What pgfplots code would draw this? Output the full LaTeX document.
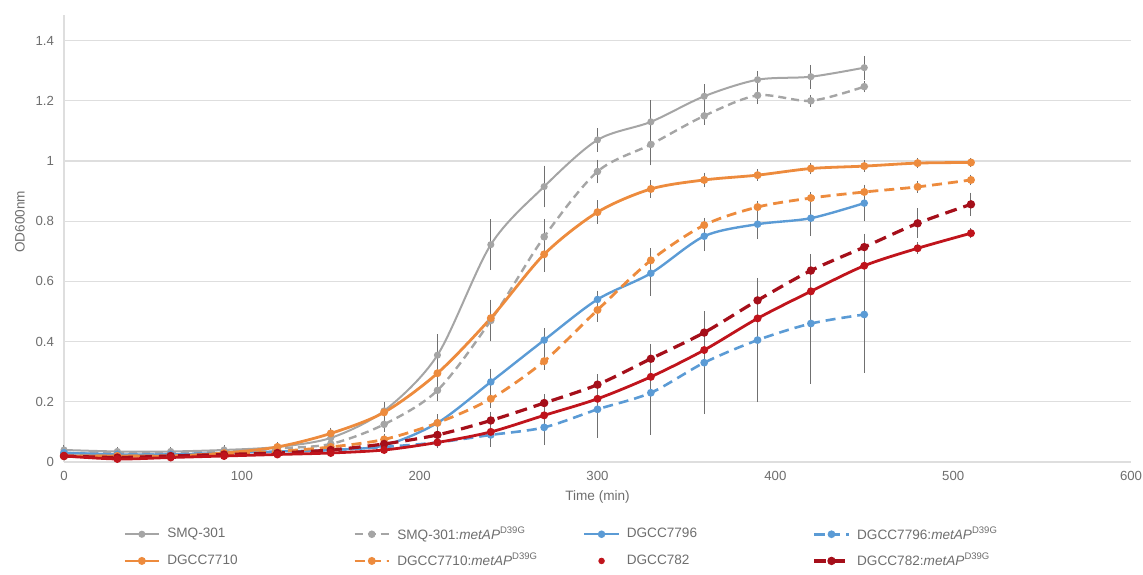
\documentclass[border=0pt]{standalone}
\usepackage{pgfplots}
\pgfplotsset{compat=1.18}
\usepackage{pgfplotstable}
\usepackage{fontspec}
\setmainfont{Liberation Sans}
\definecolor{cgray}{HTML}{A5A5A5}
\definecolor{corange}{HTML}{ED8B3D}
\definecolor{cblue}{HTML}{5B9BD5}
\definecolor{cred}{HTML}{C0141C}
\definecolor{cdred}{HTML}{A50F1A}
\definecolor{gridgray}{HTML}{DEDEDE}
\definecolor{txtgray}{HTML}{6E6E6E}
\definecolor{errgray}{HTML}{707070}

\pgfplotstableread{
x y e
0 0.040 0.008
30 0.035 0.006
60 0.035 0.006
90 0.040 0.006
120 0.050 0.006
150 0.080 0.010
180 0.170 0.020
210 0.355 0.060
240 0.722 0.075
270 0.915 0.060
300 1.070 0.030
330 1.130 0.062
360 1.215 0.030
390 1.270 0.020
420 1.280 0.030
450 1.310 0.030
}\smqA
\pgfplotstableread{
x y e
0 0.030 0.006
30 0.030 0.006
60 0.030 0.006
90 0.035 0.006
120 0.045 0.006
150 0.060 0.010
180 0.125 0.015
210 0.238 0.025
240 0.470 0.060
270 0.748 0.050
300 0.965 0.030
330 1.055 0.060
360 1.150 0.020
390 1.218 0.020
420 1.200 0.010
450 1.247 0.010
}\smqB
\pgfplotstableread{
x y e
0 0.030 0.006
30 0.025 0.005
60 0.025 0.005
90 0.030 0.005
120 0.035 0.005
150 0.040 0.005
180 0.055 0.008
210 0.130 0.015
240 0.266 0.035
270 0.405 0.030
300 0.540 0.020
330 0.627 0.065
360 0.750 0.040
390 0.790 0.040
420 0.810 0.050
450 0.860 0.050
}\blueA
\pgfplotstableread{
x y e
0 0.030 0.006
30 0.025 0.005
60 0.025 0.005
90 0.030 0.005
120 0.035 0.005
150 0.040 0.005
180 0.050 0.008
210 0.065 0.010
240 0.090 0.030
270 0.115 0.050
300 0.175 0.085
330 0.230 0.130
360 0.330 0.162
390 0.405 0.197
420 0.460 0.190
450 0.490 0.185
}\blueB
\pgfplotstableread{
x y e
0 0.020 0.005
30 0.020 0.005
60 0.020 0.005
90 0.030 0.005
120 0.050 0.006
150 0.095 0.010
180 0.165 0.020
210 0.295 0.030
240 0.478 0.050
270 0.690 0.050
300 0.830 0.030
330 0.907 0.020
360 0.937 0.015
390 0.953 0.010
420 0.975 0.010
450 0.983 0.010
480 0.993 0.008
510 0.995 0.006
}\orA
\pgfplotstableread{
x y e
0 0.020 0.005
30 0.020 0.005
60 0.020 0.005
90 0.025 0.005
120 0.035 0.005
150 0.050 0.006
180 0.075 0.010
210 0.130 0.020
240 0.210 0.020
270 0.335 0.020
300 0.505 0.030
330 0.670 0.030
360 0.787 0.015
390 0.847 0.010
420 0.877 0.010
450 0.897 0.015
480 0.914 0.010
510 0.937 0.008
}\orB
\pgfplotstableread{
x y e
0 0.020 0.005
30 0.010 0.004
60 0.015 0.004
90 0.020 0.004
120 0.025 0.004
150 0.030 0.005
180 0.040 0.005
210 0.065 0.008
240 0.100 0.010
270 0.155 0.015
300 0.210 0.020
330 0.283 0.020
360 0.372 0.020
390 0.477 0.020
420 0.567 0.020
450 0.652 0.020
480 0.710 0.010
510 0.760 0.008
}\redA
\pgfplotstableread{
x y e
0 0.020 0.005
30 0.015 0.004
60 0.020 0.004
90 0.025 0.004
120 0.030 0.004
150 0.040 0.005
180 0.060 0.008
210 0.090 0.010
240 0.138 0.020
270 0.196 0.020
300 0.257 0.025
330 0.343 0.040
360 0.430 0.050
390 0.537 0.060
420 0.636 0.045
450 0.714 0.035
480 0.793 0.040
510 0.856 0.030
}\redB

\newcommand{\msup}{$^{\mathrm{D39G}}$}
\newcommand{\lent}[1]{\makebox[91pt][l]{#1}}

\begin{document}
\begin{tikzpicture}
\path[use as bounding box] (-32pt,-56pt) rectangle (539.5pt,231pt);
\begin{axis}[
  scale only axis,
  width=533.5pt, height=223.5pt,
  xmin=0, xmax=600, ymin=0, ymax=1.485,
  xtick={0,100,200,300,400,500,600},
  ytick={0,0.2,0.4,0.6,0.8,1,1.2,1.4},
  axis lines*=left,
  axis line style={draw=gridgray, line width=0.6pt, -},
  ymajorgrids,
  grid style={draw=gridgray, line width=0.6pt},
  major tick length=0pt,
  /pgf/number format/assume math mode=true,
  tick label style={font=\fontsize{6.6}{8}\selectfont, text=txtgray},
  yticklabel style={xshift=-1.5pt},
  xticklabel style={yshift=-1pt},
  label style={font=\fontsize{6.8}{8}\selectfont, text=txtgray},
  xlabel={Time (min)},
  ylabel={OD600nm},
  xlabel style={at={(axis description cs:0.5,0)}, anchor=center, yshift=-17.5pt},
  ylabel style={at={(axis description cs:-0.0412,0.537)}, anchor=center},
  clip=false,
  legend columns=4,
  legend style={draw=none, fill=none, at={(axis description cs:0,0)}, anchor=north west,
    xshift=29.5pt, yshift=-30pt, font=\fontsize{6.8}{8}\selectfont, text=txtgray,
    row sep=1.5pt, inner sep=0pt,
    /tikz/every odd column/.append style={column sep=1.5pt}},
  error bars/y dir=both, error bars/y explicit,
  error bars/error bar style={draw=errgray, line width=0.5pt, solid},
  error bars/error mark options={draw=errgray, mark size=1.4pt, line width=0.5pt, solid},
  every axis plot/.append style={smooth, mark=*, mark size=1.25pt},
]
\addplot[color=cgray, line width=1pt] table[x=x,y=y,y error=e]{\smqA};
\addlegendentry{\lent{SMQ-301}}
\addplot[color=cgray, line width=1.2pt, dash pattern=on 4pt off 2.5pt, mark options={solid}] table[x=x,y=y,y error=e]{\smqB};
\addlegendentry{\lent{SMQ-301:\textit{metAP}\msup}}
\addplot[color=cblue, line width=1.2pt] table[x=x,y=y,y error=e]{\blueA};
\addlegendentry{\lent{DGCC7796}}
\addplot[color=cblue, line width=1.3pt, dash pattern=on 5pt off 3pt, mark options={solid}] table[x=x,y=y,y error=e]{\blueB};
\addlegendentry{\lent{DGCC7796:\textit{metAP}\msup}}
\addplot[color=corange, line width=1.4pt] table[x=x,y=y,y error=e]{\orA};
\addlegendentry{\lent{DGCC7710}}
\addplot[color=corange, line width=1.4pt, dash pattern=on 5pt off 3pt, mark options={solid}] table[x=x,y=y,y error=e]{\orB};
\addlegendentry{\lent{DGCC7710:\textit{metAP}\msup}}
\addlegendimage{only marks, mark=*, mark size=1.4pt, color=cred}
\addlegendentry{\lent{DGCC782}}
\addplot[color=cdred, line width=1.6pt, dash pattern=on 6pt off 3.5pt, mark options={solid}] table[x=x,y=y,y error=e]{\redB};
\addlegendentry{\lent{DGCC782:\textit{metAP}\msup}}
\addplot[color=cred, line width=1.4pt, forget plot] table[x=x,y=y,y error=e]{\redA};
\end{axis}
\end{tikzpicture}
\end{document}
